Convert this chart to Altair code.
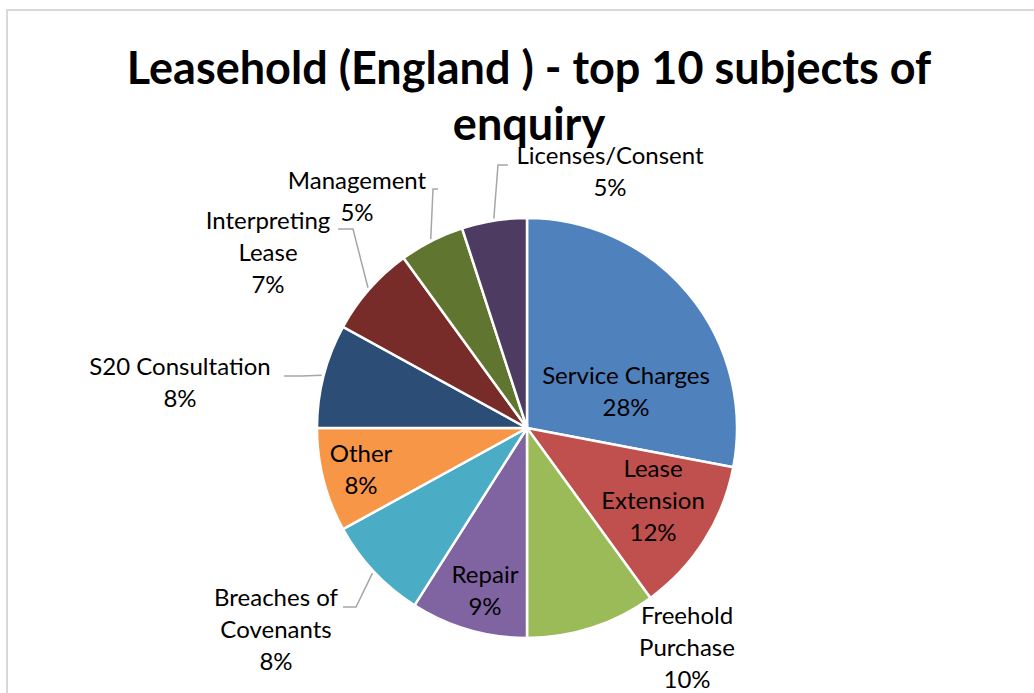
import math
import altair as alt
import pandas as pd

# ---- data ----
subjects = ["Service Charges", "Lease Extension", "Freehold Purchase", "Repair",
            "Breaches of Covenants", "Other", "S20 Consultation",
            "Interpreting Lease", "Management", "Licenses/Consent"]
shares = [28, 12, 10, 9, 8, 8, 8, 7, 5, 5]
label_lines = [["Service Charges"], ["Lease", "Extension"], ["Freehold", "Purchase"],
               ["Repair"], ["Breaches of", "Covenants"], ["Other"],
               ["S20 Consultation"], ["Interpreting", "Lease"], ["Management"],
               ["Licenses/Consent"]]
title_lines = ["Leasehold (England ) - top 10 subjects of", "enquiry"]

# ---- style / layout ----
colors = ["#4F81BD", "#C0504D", "#9BBB59", "#8064A2", "#4BACC6",
          "#F79646", "#2C4D75", "#772C2A", "#5F7530", "#4D3B62"]
W, H = 1034, 693
CX, CY, R = 527, 428, 210
FONT = "Lato"
LH = 32
# label first-line centres (pixels)
label_pos = [(626, 377), (653, 470), (687, 617), (485, 576), (276, 599),
             (361, 455), (180, 368), (268, 222), (357, 182), (610, 157)]
# leader lines: label-side start and elbow points (pixels), None = no leader
leader_start = [None, None, None, None, ((343, 607), (356, 607)), None,
                ((284, 376), (302, 376)), ((338, 229), (353, 229)),
                ((438, 189), (433, 189)), ((508, 165), (498, 165))]

total = sum(shares)
pie_df = pd.DataFrame({"subject": subjects, "share": shares, "order": range(len(subjects))})

lab_df = pd.DataFrame({
    "x": [p[0] for p in label_pos],
    "y": [p[1] for p in label_pos],
    "text": ["\n".join(lines + [f"{v}%"]) for lines, v in zip(label_lines, shares)],
})

rows = []
cum = 0
for i, v in enumerate(shares):
    mid = (cum + v / 2) / total * 2 * math.pi
    cum += v
    if leader_start[i] is None:
        continue
    (sx, sy), (ex, ey) = leader_start[i]
    px = CX + (R + 2) * math.sin(mid)
    py = CY - (R + 2) * math.cos(mid)
    for k, (x, y) in enumerate([(sx, sy), (ex, ey), (px, py)]):
        rows.append({"id": subjects[i], "seq": k, "x": x, "y": y})
lead_df = pd.DataFrame(rows)

title_df = pd.DataFrame({"text": ["\n".join(title_lines)]})
one = pd.DataFrame({"a": [0]})

border = alt.Chart(one).mark_rect(filled=False, stroke="#d9d9d9", strokeWidth=2).encode(
    x=alt.value(7), x2=alt.value(W + 20), y=alt.value(10), y2=alt.value(H + 20))

title = alt.Chart(title_df).mark_text(
    font=FONT, fontSize=45, fontWeight="bold", lineBreak="\n", lineHeight=56,
    align="center", baseline="alphabetic", color="black").encode(
    x=alt.value(529), y=alt.value(84), text="text:N")

pie = alt.Chart(pie_df).mark_arc(outerRadius=R, stroke="white", strokeWidth=2.5).encode(
    theta=alt.Theta("share:Q", stack=True),
    order=alt.Order("order:Q"),
    color=alt.Color("subject:N", scale=alt.Scale(domain=subjects, range=colors), legend=None),
    x=alt.value(CX), y=alt.value(CY))

leaders = alt.Chart(lead_df).mark_line(color="#a6a6a6", strokeWidth=1.5).encode(
    x=alt.X("x:Q", scale=None), y=alt.Y("y:Q", scale=None),
    detail="id:N", order="seq:Q")

labels = alt.Chart(lab_df).mark_text(
    font=FONT, fontSize=24, lineBreak="\n", lineHeight=LH,
    align="center", baseline="middle", color="black").encode(
    x=alt.X("x:Q", scale=None), y=alt.Y("y:Q", scale=None), text="text:N")

chart = alt.layer(border, title, pie, leaders, labels).properties(
    width=W, height=H, padding=0, autosize="none", background="white"
).configure_view(stroke=None)

chart.save("out.html", embed_options={"renderer": "svg", "actions": False})
